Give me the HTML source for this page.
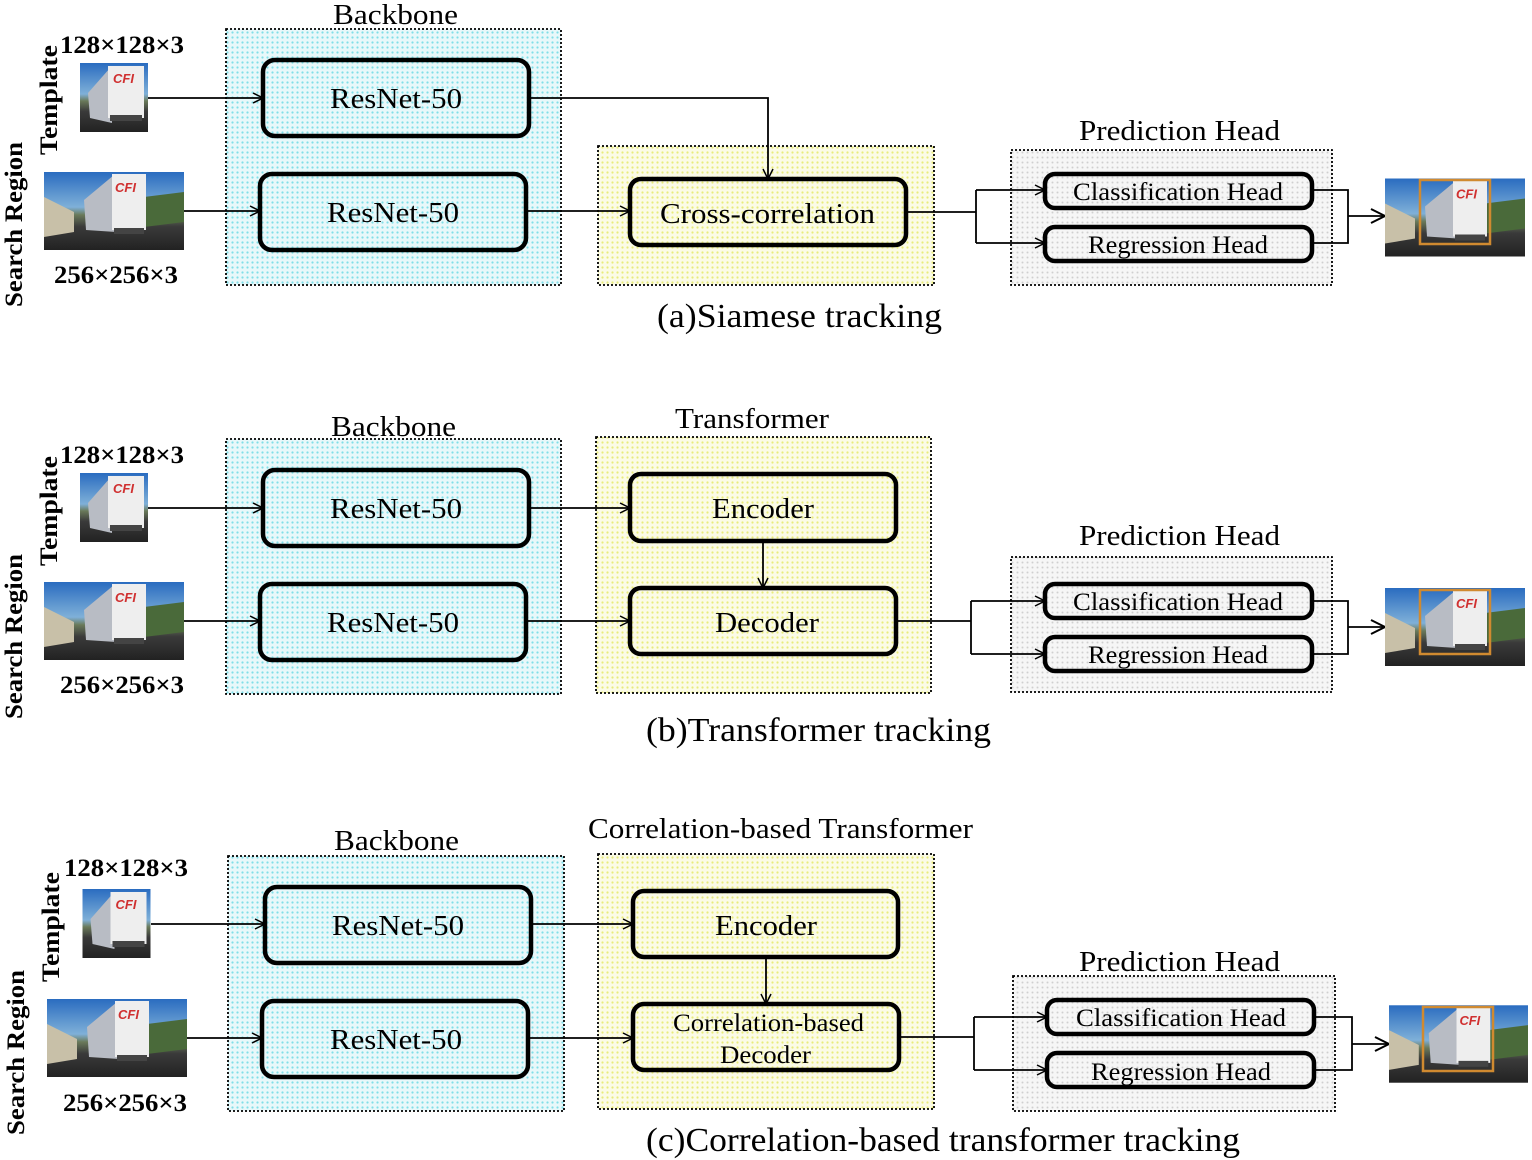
<!DOCTYPE html>
<html><head><meta charset="utf-8"><style>
html,body{margin:0;padding:0;background:#fff;}
svg{display:block;}
text{font-family:"Liberation Serif",serif;fill:#000;}
</style></head><body>
<svg width="1532" height="1160" viewBox="0 0 1532 1160" xmlns="http://www.w3.org/2000/svg">
<defs>
<pattern id="pc" width="5" height="5" patternUnits="userSpaceOnUse"><rect width="5" height="5" fill="#e8f8fa"/><circle cx="2.5" cy="2.5" r="1.1" fill="#7fdfe8"/></pattern>
<pattern id="py" width="5" height="5" patternUnits="userSpaceOnUse"><rect width="5" height="5" fill="#fbfbe6"/><circle cx="2.5" cy="2.5" r="1.1" fill="#e8ec7a"/></pattern>
<pattern id="pg" width="5" height="5" patternUnits="userSpaceOnUse"><rect width="5" height="5" fill="#f6f6f6"/><circle cx="2.5" cy="2.5" r="1" fill="#cfcfcf"/></pattern>
<marker id="ar" viewBox="0 0 12 12" refX="11" refY="6" markerWidth="12" markerHeight="12" markerUnits="userSpaceOnUse" orient="auto"><path d="M1,1 L11,6 L1,11" fill="none" stroke="#000" stroke-width="1.5"/></marker>
<marker id="ar2" viewBox="0 0 16 16" refX="15" refY="8" markerWidth="16" markerHeight="16" markerUnits="userSpaceOnUse" orient="auto"><path d="M1,1 L15,8 L1,15" fill="none" stroke="#000" stroke-width="2"/></marker>
<linearGradient id="sky" x1="0" y1="0" x2="0" y2="1"><stop offset="0" stop-color="#2a6cc0"/><stop offset="0.45" stop-color="#7fb0d8"/><stop offset="0.55" stop-color="#6a7a5a"/><stop offset="0.7" stop-color="#3a3a3a"/><stop offset="1" stop-color="#222"/></linearGradient>
<symbol id="tmpl" viewBox="0 0 68 69"><rect width="68" height="69" fill="url(#sky)"/><polygon points="8,30 30,5 32,60 10,55" fill="#b8bcc4"/><rect x="28" y="3" width="36" height="52" fill="#eeeeee"/><text x="33" y="20" font-size="13" font-weight="bold" font-style="italic" style="fill:#d03030;font-family:'Liberation Sans',sans-serif">CFI</text><rect x="30" y="52" width="32" height="6" fill="#444"/></symbol>
<symbol id="srch" viewBox="0 0 140 78"><rect width="140" height="78" fill="url(#sky)"/><polygon points="0,25 30,40 30,60 0,65" fill="#c8c0a8"/><polygon points="100,25 140,20 140,50 100,55" fill="#4a6a3a"/><polygon points="40,28 70,3 72,60 42,58" fill="#b8bcc4"/><rect x="68" y="2" width="34" height="56" fill="#eeeeee"/><text x="71" y="20" font-size="13" font-weight="bold" font-style="italic" style="fill:#d03030;font-family:'Liberation Sans',sans-serif">CFI</text><rect x="70" y="56" width="30" height="6" fill="#444"/></symbol>
</defs>

<g fill="none" stroke="#000" stroke-width="1.8">
<rect x="226" y="29" width="335" height="256" fill="url(#pc)" stroke-dasharray="2,2"/>
<rect x="598" y="146" width="336" height="139" fill="url(#py)" stroke-dasharray="2,2"/>
<rect x="1011" y="150" width="321" height="135" fill="url(#pg)" stroke-dasharray="2,2"/>
<rect x="226" y="439" width="335" height="255" fill="url(#pc)" stroke-dasharray="2,2"/>
<rect x="596" y="437" width="335" height="256" fill="url(#py)" stroke-dasharray="2,2"/>
<rect x="1011" y="557" width="321" height="135" fill="url(#pg)" stroke-dasharray="2,2"/>
<rect x="228" y="856" width="336" height="255" fill="url(#pc)" stroke-dasharray="2,2"/>
<rect x="598" y="854" width="336" height="255" fill="url(#py)" stroke-dasharray="2,2"/>
<rect x="1013" y="976" width="322" height="135" fill="url(#pg)" stroke-dasharray="2,2"/>
</g>

<g fill="none" stroke="#000" stroke-width="4.5">
<rect x="263" y="60" width="266" height="76" rx="12"/>
<rect x="260" y="174" width="266" height="76" rx="12"/>
<rect x="630" y="179" width="276" height="66" rx="11"/>
<rect x="1045" y="174" width="267" height="34" rx="10"/>
<rect x="1045" y="227" width="267" height="34" rx="10"/>

<rect x="263" y="470" width="266" height="76" rx="12"/>
<rect x="260" y="584" width="266" height="76" rx="12"/>
<rect x="630" y="474" width="266" height="67" rx="11"/>
<rect x="630" y="588" width="266" height="66" rx="11"/>
<rect x="1045" y="584" width="267" height="34" rx="10"/>
<rect x="1045" y="637" width="267" height="34" rx="10"/>

<rect x="265" y="887" width="266" height="76" rx="12"/>
<rect x="262" y="1001" width="266" height="76" rx="12"/>
<rect x="633" y="891" width="265" height="66" rx="11"/>
<rect x="633" y="1004" width="266" height="66" rx="11"/>
<rect x="1047" y="1000" width="267" height="34" rx="10"/>
<rect x="1047" y="1053" width="267" height="34" rx="10"/>
</g>

<g fill="none" stroke="#000" stroke-width="1.8">
<line x1="148" y1="98" x2="263" y2="98" marker-end="url(#ar)"/>
<line x1="184" y1="211" x2="260" y2="211" marker-end="url(#ar)"/>
<polyline points="529,98 768,98 768,179" marker-end="url(#ar)"/>
<line x1="526" y1="211" x2="630" y2="211" marker-end="url(#ar)"/>
<polyline points="906,212 976,212"/>
<polyline points="976,190 976,243"/>
<line x1="976" y1="190" x2="1045" y2="190" marker-end="url(#ar)"/>
<line x1="976" y1="243" x2="1045" y2="243" marker-end="url(#ar)"/>
<polyline points="1312,190 1348,190 1348,243 1312,243"/>
<line x1="1348" y1="216" x2="1385" y2="216" marker-end="url(#ar2)"/>
<line x1="148" y1="508" x2="263" y2="508" marker-end="url(#ar)"/>
<line x1="184" y1="621" x2="260" y2="621" marker-end="url(#ar)"/>
<line x1="529" y1="508" x2="630" y2="508" marker-end="url(#ar)"/>
<line x1="526" y1="621" x2="630" y2="621" marker-end="url(#ar)"/>
<line x1="763" y1="541" x2="763" y2="588" marker-end="url(#ar)"/>
<polyline points="896,621 971,621"/>
<polyline points="971,601 971,654"/>
<line x1="971" y1="601" x2="1045" y2="601" marker-end="url(#ar)"/>
<line x1="971" y1="654" x2="1045" y2="654" marker-end="url(#ar)"/>
<polyline points="1312,601 1348,601 1348,654 1312,654"/>
<line x1="1348" y1="627" x2="1385" y2="627" marker-end="url(#ar2)"/>
<line x1="151" y1="924" x2="265" y2="924" marker-end="url(#ar)"/>
<line x1="187" y1="1038" x2="262" y2="1038" marker-end="url(#ar)"/>
<line x1="531" y1="924" x2="633" y2="924" marker-end="url(#ar)"/>
<line x1="528" y1="1038" x2="633" y2="1038" marker-end="url(#ar)"/>
<line x1="766" y1="957" x2="766" y2="1004" marker-end="url(#ar)"/>
<polyline points="899,1037 974,1037"/>
<polyline points="974,1017 974,1070"/>
<line x1="974" y1="1017" x2="1047" y2="1017" marker-end="url(#ar)"/>
<line x1="974" y1="1070" x2="1047" y2="1070" marker-end="url(#ar)"/>
<polyline points="1314,1017 1352,1017 1352,1070 1314,1070"/>
<line x1="1352" y1="1044" x2="1389" y2="1044" marker-end="url(#ar2)"/>
</g>

<use href="#tmpl" x="80" y="63" width="68" height="69"/>
<use href="#srch" x="44" y="172" width="140" height="78"/>
<use href="#srch" x="1385" y="178" width="140" height="79"/>
<rect x="1420" y="180" width="70" height="64" fill="none" stroke="#d08a30" stroke-width="2.5"/>
<use href="#tmpl" x="80" y="473" width="68" height="69"/>
<use href="#srch" x="44" y="582" width="140" height="78"/>
<use href="#srch" x="1385" y="588" width="140" height="78"/>
<rect x="1420" y="590" width="70" height="64" fill="none" stroke="#d08a30" stroke-width="2.5"/>
<use href="#tmpl" x="82" y="889" width="69" height="69"/>
<use href="#srch" x="47" y="999" width="140" height="78"/>
<use href="#srch" x="1389" y="1005" width="139" height="78"/>
<rect x="1423" y="1007" width="70" height="64" fill="none" stroke="#d08a30" stroke-width="2.5"/>

<g font-size="29" lengthAdjust="spacingAndGlyphs">
<text x="333" y="24" textLength="125" lengthAdjust="spacingAndGlyphs">Backbone</text>
<text x="1079" y="140" textLength="201" lengthAdjust="spacingAndGlyphs">Prediction Head</text>
<text x="330" y="108" textLength="132" lengthAdjust="spacingAndGlyphs">ResNet-50</text>
<text x="327" y="222" textLength="132" lengthAdjust="spacingAndGlyphs">ResNet-50</text>
<text x="660" y="223" textLength="215" lengthAdjust="spacingAndGlyphs">Cross-correlation</text>
<text x="1073" y="200" font-size="25" textLength="210" lengthAdjust="spacingAndGlyphs">Classification Head</text>
<text x="1088" y="253" font-size="25" textLength="180" lengthAdjust="spacingAndGlyphs">Regression Head</text>
<text x="657" y="327" font-size="34" textLength="285" lengthAdjust="spacingAndGlyphs">(a)Siamese tracking</text>

<text x="331" y="436" textLength="125" lengthAdjust="spacingAndGlyphs">Backbone</text>
<text x="675" y="428" textLength="154" lengthAdjust="spacingAndGlyphs">Transformer</text>
<text x="1079" y="545" textLength="201" lengthAdjust="spacingAndGlyphs">Prediction Head</text>
<text x="330" y="518" textLength="132" lengthAdjust="spacingAndGlyphs">ResNet-50</text>
<text x="327" y="632" textLength="132" lengthAdjust="spacingAndGlyphs">ResNet-50</text>
<text x="712" y="518" textLength="102" lengthAdjust="spacingAndGlyphs">Encoder</text>
<text x="715" y="632" textLength="104" lengthAdjust="spacingAndGlyphs">Decoder</text>
<text x="1073" y="610" font-size="25" textLength="210" lengthAdjust="spacingAndGlyphs">Classification Head</text>
<text x="1088" y="663" font-size="25" textLength="180" lengthAdjust="spacingAndGlyphs">Regression Head</text>
<text x="646" y="741" font-size="34" textLength="345" lengthAdjust="spacingAndGlyphs">(b)Transformer tracking</text>

<text x="334" y="850" textLength="125" lengthAdjust="spacingAndGlyphs">Backbone</text>
<text x="588" y="838" textLength="385" lengthAdjust="spacingAndGlyphs">Correlation-based Transformer</text>
<text x="1079" y="971" textLength="201" lengthAdjust="spacingAndGlyphs">Prediction Head</text>
<text x="332" y="935" textLength="132" lengthAdjust="spacingAndGlyphs">ResNet-50</text>
<text x="330" y="1049" textLength="132" lengthAdjust="spacingAndGlyphs">ResNet-50</text>
<text x="715" y="935" textLength="102" lengthAdjust="spacingAndGlyphs">Encoder</text>
<text x="673" y="1031" font-size="25" textLength="191" lengthAdjust="spacingAndGlyphs">Correlation-based</text>
<text x="720" y="1063" font-size="25" textLength="91" lengthAdjust="spacingAndGlyphs">Decoder</text>
<text x="1076" y="1026" font-size="25" textLength="210" lengthAdjust="spacingAndGlyphs">Classification Head</text>
<text x="1091" y="1080" font-size="25" textLength="180" lengthAdjust="spacingAndGlyphs">Regression Head</text>
<text x="646" y="1151" font-size="34" textLength="594" lengthAdjust="spacingAndGlyphs">(c)Correlation-based transformer tracking</text>
</g>

<g font-size="25" font-weight="bold">
<text x="60" y="53" textLength="124" lengthAdjust="spacingAndGlyphs">128×128×3</text>
<text x="54" y="283" textLength="124" lengthAdjust="spacingAndGlyphs">256×256×3</text>
<text x="60" y="463" textLength="124" lengthAdjust="spacingAndGlyphs">128×128×3</text>
<text x="60" y="693" textLength="124" lengthAdjust="spacingAndGlyphs">256×256×3</text>
<text x="64" y="876" textLength="124" lengthAdjust="spacingAndGlyphs">128×128×3</text>
<text x="63" y="1111" textLength="124" lengthAdjust="spacingAndGlyphs">256×256×3</text>
<text transform="translate(57,155) rotate(-90)" textLength="110" lengthAdjust="spacingAndGlyphs">Template</text>
<text transform="translate(22,307) rotate(-90)" textLength="165" lengthAdjust="spacingAndGlyphs">Search Region</text>
<text transform="translate(57,566) rotate(-90)" textLength="110" lengthAdjust="spacingAndGlyphs">Template</text>
<text transform="translate(22,719) rotate(-90)" textLength="165" lengthAdjust="spacingAndGlyphs">Search Region</text>
<text transform="translate(59,982) rotate(-90)" textLength="110" lengthAdjust="spacingAndGlyphs">Template</text>
<text transform="translate(24,1135) rotate(-90)" textLength="165" lengthAdjust="spacingAndGlyphs">Search Region</text>
</g>
</svg>
</body></html>
